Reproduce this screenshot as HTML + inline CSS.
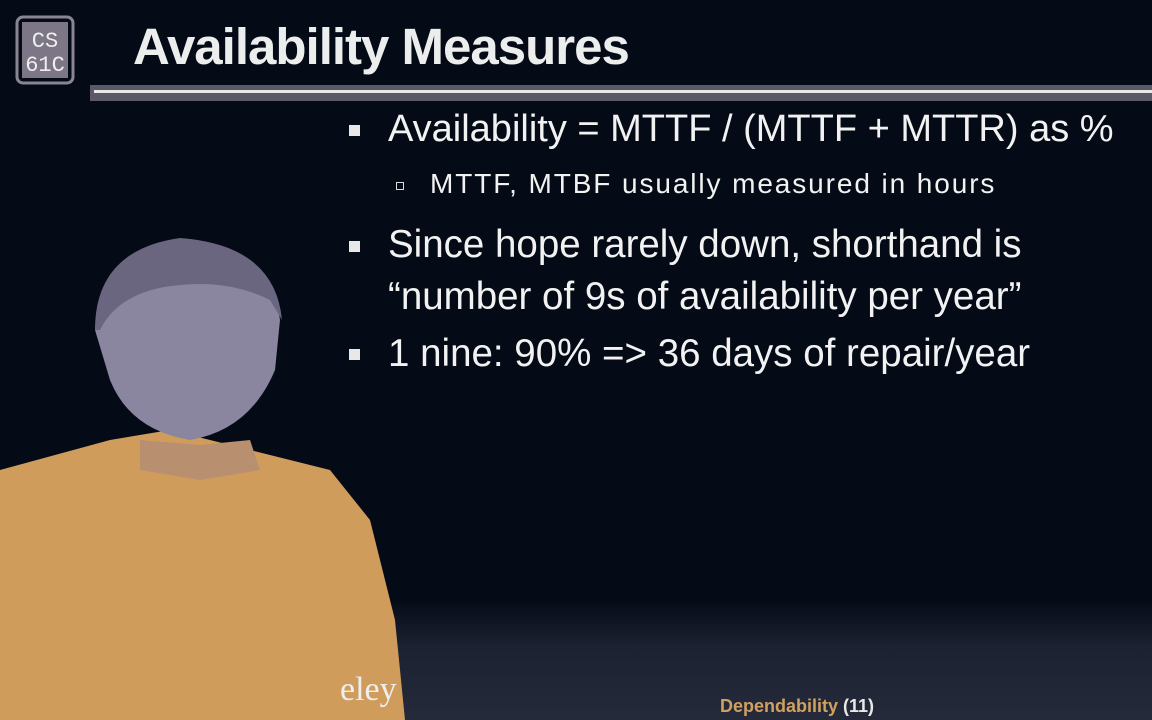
<!DOCTYPE html>
<html><head><meta charset="utf-8"><style>
html,body{margin:0;padding:0}
body{width:1152px;height:720px;overflow:hidden;background:#050b16;position:relative;font-family:"Liberation Sans",sans-serif}
.t{position:absolute;color:#f2f2f2;white-space:nowrap}
.b{position:absolute;width:11px;height:11px;background:#e8e8e8}
</style></head><body>
<div style="position:absolute;left:0;top:600px;width:1152px;height:120px;background:linear-gradient(#050b16,#1c2232 40%,#242a3a)"></div>
<svg style="position:absolute;left:5px;top:5px" width="75" height="90">
<rect x="12" y="12" width="56" height="66" rx="6" fill="none" stroke="#8a8494" stroke-width="3"/>
<rect x="17" y="17" width="46" height="56" fill="#7c7686"/>
<text x="40" y="42" text-anchor="middle" font-family="Liberation Mono" font-size="22" fill="#eee">CS</text>
<text x="40" y="66" text-anchor="middle" font-family="Liberation Mono" font-size="22" fill="#eee">61C</text>
</svg>
<div class="t" style="left:133px;top:17px;font-size:51px;font-weight:bold;letter-spacing:-1px;color:#eceeee">Availability Measures</div>
<div style="position:absolute;left:90px;top:85px;width:1062px;height:16px;background:#5b5868"></div>
<div style="position:absolute;left:94px;top:90px;width:1058px;height:3px;background:#e8e8e8"></div>
<div class="b" style="left:349px;top:125px"></div>
<div class="t" style="left:388px;top:108px;font-size:38px">Availability = MTTF / (MTTF + MTTR) as %</div>
<div style="position:absolute;left:396px;top:182px;width:6px;height:6px;border:1px solid #ddd"></div>
<div class="t" style="left:430px;top:168px;font-size:28px;letter-spacing:1.9px">MTTF, MTBF usually measured in hours</div>
<div class="b" style="left:349px;top:241px"></div>
<div class="t" style="left:388px;top:223px;font-size:38.5px">Since hope rarely down, shorthand is</div>
<div class="t" style="left:388px;top:275px;font-size:38.5px">“number of 9s of availability per year”</div>
<div class="b" style="left:349px;top:349px"></div>
<div class="t" style="left:388px;top:332px;font-size:38.5px">1 nine: 90% =&gt; 36 days of repair/year</div>
<svg style="position:absolute;left:0;top:0" width="460" height="720">
<path d="M0 470 L110 440 L170 430 L230 445 L330 470 L370 520 L395 620 L405 720 L0 720 Z" fill="#cf9c5c"/>
<path d="M95 330 Q100 250 180 240 Q270 245 280 320 L275 370 Q250 430 190 440 Q130 430 110 380 Z" fill="#8a86a0"/>
<path d="M95 330 Q95 250 180 238 Q275 245 282 320 L270 300 Q230 280 180 285 Q120 290 100 330 Z" fill="#6a6680"/>
<path d="M140 440 L200 445 L250 440 L260 470 L200 480 L140 470 Z" fill="#b89070"/>
<text x="340" y="700" font-family="Liberation Serif" font-size="34" fill="#eee">eley</text>
</svg>
<div class="t" style="left:720px;top:696px;font-size:18px;font-weight:bold;color:#d0a060">Dependability <span style="color:#e8e8e8">(11)</span></div>
</body></html>
